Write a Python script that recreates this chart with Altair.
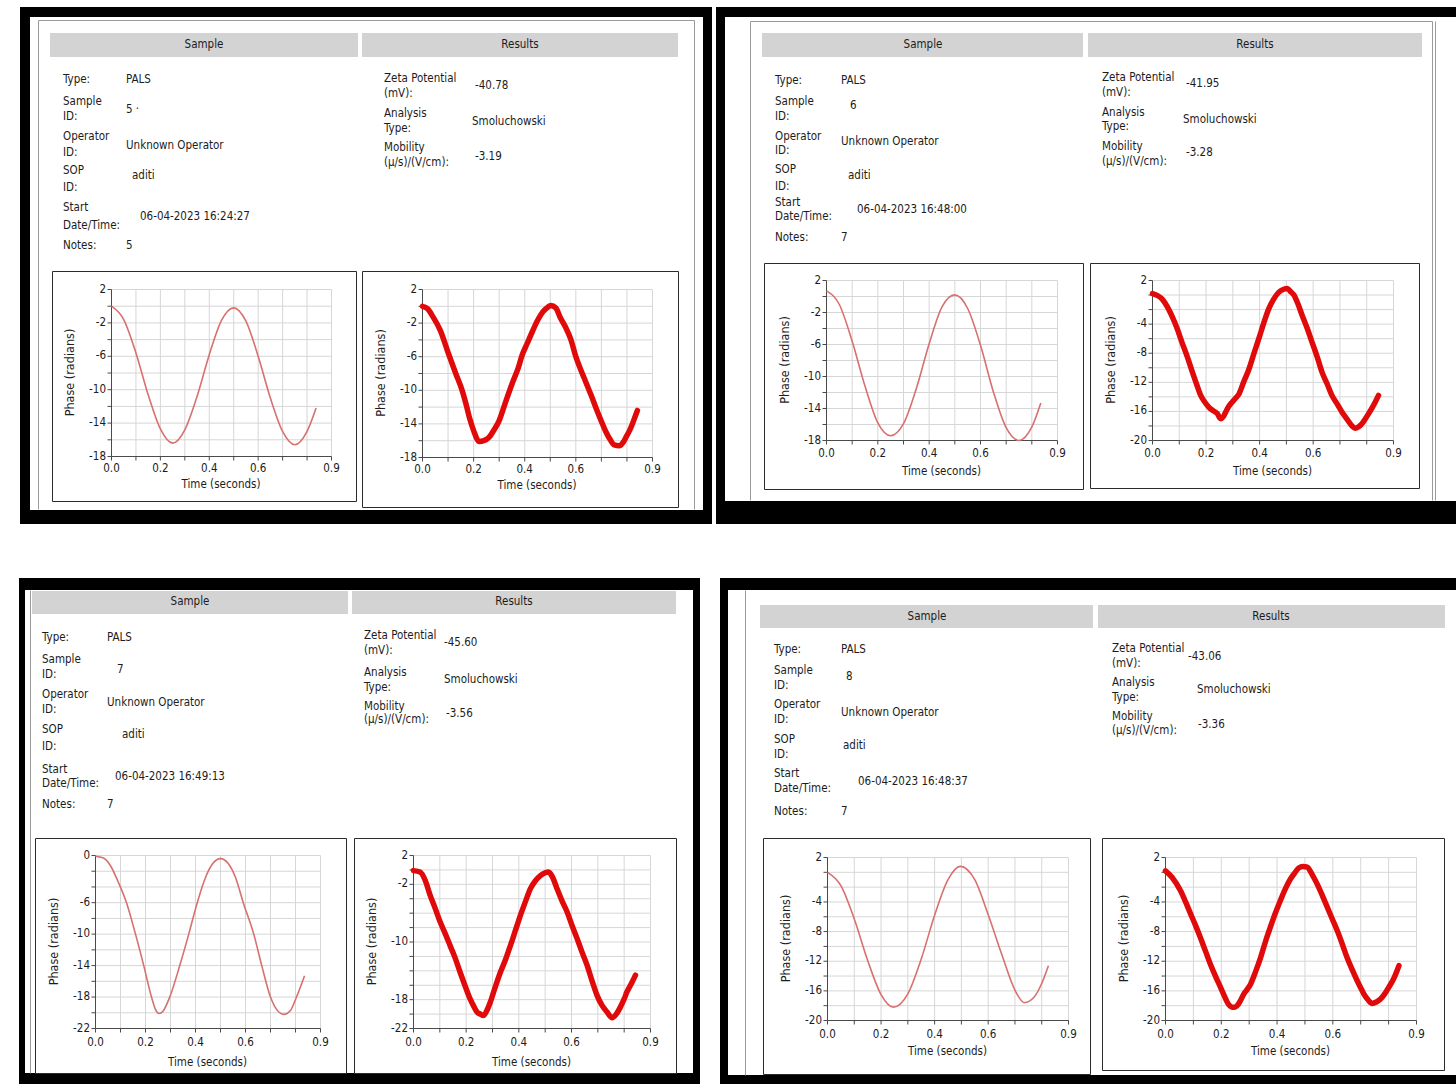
import altair as alt
import pandas as pd

W, H = 1456, 1084
FONT = "DejaVu Sans Condensed, Liberation Sans, Arial, sans-serif"
INK = "#1c1c1c"
AXIS = "#4a4a4a"
GRID = "#d6d6d6"
BAR = "#d3d3d3"
THIN_RED = "#d8706e"
THICK_RED = "#e00a0a"

# ---- report text ------------------------------------------------------------
HEADERS = ["Sample", "Results"]
SAMPLE_FIELDS = ["Type:", "Sample", "ID:", "Operator", "ID:", "SOP", "ID:",
                 "Start", "Date/Time:", "Notes:"]
RESULT_FIELDS = ["Zeta Potential", "(mV):", "Analysis", "Type:",
                 "Mobility", "(\u03bc/s)/(V/cm):"]

MEAS_TYPE = ["PALS", "PALS", "PALS", "PALS"]
SAMPLE_ID = ["5 \u00b7", "6", "7", "8"]
OPERATOR = ["Unknown Operator", "Unknown Operator", "Unknown Operator", "Unknown Operator"]
SOP_ID = ["aditi", "aditi", "aditi", "aditi"]
START = ["06-04-2023 16:24:27", "06-04-2023 16:48:00",
         "06-04-2023 16:49:13", "06-04-2023 16:48:37"]
NOTES = ["5", "7", "7", "7"]
ZETA = ["-40.78", "-41.95", "-45.60", "-43.06"]
ANALYSIS = ["Smoluchowski", "Smoluchowski", "Smoluchowski", "Smoluchowski"]
MOBILITY = ["-3.19", "-3.28", "-3.56", "-3.36"]

# ---- axes -------------------------------------------------------------------
X_TITLE = "Time (seconds)"
Y_TITLE = "Phase (radians)"
X_TICKS = [0.0, 0.1, 0.2, 0.3, 0.4, 0.5, 0.6, 0.7, 0.8, 0.9]
X_LABELS = [0.0, 0.2, 0.4, 0.6, 0.9]
Y_DOMAINS = [[-18, 2], [-18, 2], [-18, 2], [-20, 2],
             [-22, 0], [-22, 2], [-20, 2], [-20, 2]]
Y_LABELS = [[2, -2, -6, -10, -14, -18], [2, -2, -6, -10, -14, -18],
            [2, -2, -6, -10, -14, -18], [2, -4, -8, -12, -16, -20],
            [0, -6, -10, -14, -18, -22], [2, -2, -10, -18, -22],
            [2, -4, -8, -12, -16, -20], [2, -4, -8, -12, -16, -20]]

# ---- phase traces (time in s, phase in radians) -----------------------------
T_5_L = [0.00, 0.05, 0.10, 0.15, 0.20, 0.25, 0.30, 0.35, 0.40, 0.45,
         0.50, 0.55, 0.60, 0.65, 0.70, 0.75, 0.80, 0.837]
PH_5_L = [0.0, -1.6, -5.6, -10.6, -14.7, -16.4, -14.8, -10.8, -5.8, -1.7,
          -0.2, -1.8, -6.0, -11.0, -15.0, -16.6, -15.0, -12.2]

T_5_R = [0.000, 0.020, 0.040, 0.070, 0.100, 0.130, 0.155, 0.170, 0.185, 0.200,
         0.222, 0.240, 0.260, 0.280, 0.300, 0.325, 0.352, 0.375, 0.390, 0.410,
         0.430, 0.450, 0.470, 0.490, 0.502, 0.522, 0.540, 0.560, 0.580, 0.600,
         0.620, 0.640, 0.660, 0.680, 0.700, 0.717, 0.735, 0.750, 0.770, 0.785,
         0.796, 0.810, 0.820, 0.831, 0.841]
PH_5_R = [0.0, -0.3, -1.2, -2.9, -5.5, -8.0, -10.0, -11.6, -13.4, -14.8,
          -16.1, -16.0, -15.6, -14.7, -13.6, -11.4, -9.1, -7.3, -5.8, -4.4,
          -3.0, -1.7, -0.7, -0.1, 0.1, -0.2, -1.4, -2.5, -3.9, -6.0,
          -7.6, -9.1, -10.6, -12.2, -13.7, -14.9, -15.9, -16.5, -16.6, -16.2,
          -15.6, -14.8, -14.1, -13.2, -12.4]

T_6_L = [0.00, 0.05, 0.10, 0.15, 0.20, 0.25, 0.30, 0.35, 0.40, 0.45,
         0.50, 0.55, 0.60, 0.65, 0.70, 0.75, 0.80, 0.835]
PH_6_L = [0.7, -1.0, -5.6, -11.2, -15.8, -17.4, -15.9, -11.5, -5.9, -1.3,
          0.2, -1.5, -6.1, -11.9, -16.4, -18.0, -16.3, -13.3]

T_6_R = [0.000, 0.020, 0.037, 0.055, 0.074, 0.092, 0.110, 0.130, 0.149, 0.165,
         0.180, 0.195, 0.210, 0.226, 0.242, 0.254, 0.265, 0.273, 0.285, 0.298,
         0.310, 0.323, 0.340, 0.360, 0.380, 0.397, 0.415, 0.434, 0.452, 0.472,
         0.490, 0.503, 0.515, 0.528, 0.543, 0.559, 0.578, 0.596, 0.615, 0.633,
         0.652, 0.670, 0.690, 0.708, 0.727, 0.745, 0.757, 0.770, 0.782, 0.795,
         0.807, 0.820, 0.832, 0.844]
PH_6_R = [0.2, -0.1, -0.6, -1.6, -3.0, -4.6, -6.5, -8.5, -10.6, -12.3,
          -13.8, -14.7, -15.4, -15.9, -16.3, -17.0, -16.7, -16.1, -15.3, -14.7,
          -14.2, -13.6, -12.0, -10.2, -7.9, -6.0, -3.9, -1.9, -0.6, 0.4,
          0.8, 0.9, 0.5, 0.0, -1.2, -2.8, -4.6, -6.5, -8.5, -10.6,
          -12.2, -13.8, -15.0, -16.1, -17.1, -18.0, -18.3, -18.1, -17.7, -17.0,
          -16.3, -15.5, -14.7, -13.8]

T_7_L = [0.000, 0.030, 0.060, 0.090, 0.124, 0.160, 0.193, 0.224, 0.240, 0.255,
         0.270, 0.297, 0.337, 0.373, 0.407, 0.440, 0.470, 0.500, 0.530, 0.560,
         0.591, 0.633, 0.665, 0.700, 0.725, 0.753, 0.780, 0.804, 0.836]
PH_7_L = [-0.1, -0.3, -1.3, -3.3, -6.0, -10.0, -14.0, -18.0, -19.6, -20.1,
          -19.8, -18.0, -14.0, -10.0, -6.0, -2.8, -1.0, -0.4, -1.0, -2.8,
          -6.0, -10.0, -14.0, -18.0, -19.6, -20.2, -19.7, -18.0, -15.3]

T_7_R = [0.000, 0.025, 0.045, 0.063, 0.082, 0.101, 0.120, 0.139, 0.158, 0.177,
         0.196, 0.215, 0.230, 0.241, 0.254, 0.266, 0.280, 0.292, 0.310, 0.330,
         0.350, 0.368, 0.387, 0.406, 0.425, 0.444, 0.463, 0.482, 0.500, 0.513,
         0.528, 0.545, 0.564, 0.583, 0.602, 0.621, 0.640, 0.659, 0.678, 0.697,
         0.716, 0.735, 0.754, 0.770, 0.786, 0.800, 0.811, 0.827, 0.843]
PH_7_R = [-0.1, -0.3, -1.5, -3.5, -5.3, -7.2, -8.8, -10.5, -12.2, -14.2,
          -16.1, -17.9, -19.0, -19.7, -20.0, -20.2, -19.4, -18.3, -16.3, -14.2,
          -12.4, -10.5, -8.4, -6.3, -4.4, -2.6, -1.5, -0.8, -0.4, -0.3,
          -1.0, -2.6, -4.3, -5.8, -7.7, -9.5, -11.4, -13.2, -15.4, -17.4,
          -18.8, -19.7, -20.5, -20.0, -19.0, -17.9, -16.9, -15.8, -14.6]

T_8_L = [0.00, 0.05, 0.10, 0.15, 0.20, 0.246, 0.30, 0.35, 0.40, 0.45,
         0.496, 0.55, 0.60, 0.65, 0.70, 0.735, 0.77, 0.80, 0.825]
PH_8_L = [0.0, -1.8, -6.3, -11.9, -16.5, -18.2, -16.4, -11.7, -5.8, -1.0,
          0.8, -1.0, -5.7, -11.0, -15.9, -17.6, -16.9, -15.0, -12.6]

T_8_R = [0.000, 0.024, 0.054, 0.072, 0.090, 0.108, 0.125, 0.143, 0.161, 0.179,
         0.197, 0.210, 0.221, 0.230, 0.239, 0.248, 0.257, 0.269, 0.281, 0.293,
         0.305, 0.323, 0.341, 0.358, 0.376, 0.394, 0.412, 0.430, 0.448, 0.463,
         0.478, 0.493, 0.508, 0.526, 0.544, 0.562, 0.580, 0.598, 0.616, 0.634,
         0.651, 0.669, 0.687, 0.700, 0.711, 0.726, 0.741, 0.756, 0.771, 0.786,
         0.801, 0.820, 0.837]
PH_8_R = [0.2, -0.7, -2.5, -4.0, -5.6, -7.2, -8.8, -10.6, -12.4, -14.0,
          -15.5, -16.6, -17.5, -18.0, -18.2, -18.2, -18.0, -17.3, -16.4, -15.8,
          -15.1, -13.4, -11.5, -9.4, -7.4, -5.5, -3.8, -2.2, -0.9, -0.1,
          0.6, 0.8, 0.7, -0.3, -1.6, -3.1, -4.7, -6.3, -7.9, -9.7,
          -11.5, -13.1, -14.6, -15.6, -16.4, -17.2, -17.7, -17.5, -17.1, -16.4,
          -15.5, -14.2, -12.6]

TRACES = [(T_5_L, PH_5_L, False), (T_5_R, PH_5_R, True),
          (T_6_L, PH_6_L, False), (T_6_R, PH_6_R, True),
          (T_7_L, PH_7_L, False), (T_7_R, PH_7_R, True),
          (T_8_L, PH_8_L, False), (T_8_R, PH_8_R, True)]

# ---- page layout (pixels) ---------------------------------------------------
SHEETS = [
    dict(black=(20, 7, 712, 524), white=(30, 17, 703, 510),
         rules=[(38, 20, 38, 509), (38, 20, 694, 20), (694, 20, 694, 509)],
         bars=[(50, 33, 358, 57), (362, 33, 678, 57)], bar_text=[(204, 45), (520, 45)],
         lab_x=63, lab_y=[80, 102, 117, 137, 153, 171, 188, 208, 226, 246],
         val_x=[126, 126, 126, 132, 140, 126], val_y=[80, 110, 146, 176, 217, 246],
         res_x=384, res_y=[79, 94, 114, 129, 148, 163],
         rv_x=[475, 472, 475], rv_y=[86, 122, 157]),
    dict(black=(716, 7, 1456, 524), white=(725, 17, 1456, 501),
         rules=[(750, 21, 750, 500), (750, 21, 1432, 21), (1432, 21, 1432, 500),
                (1435, 21, 1435, 500)],
         bars=[(762, 33, 1083, 57), (1088, 33, 1422, 57)], bar_text=[(923, 45), (1255, 45)],
         lab_x=775, lab_y=[81, 102, 117, 137, 151, 170, 187, 203, 217, 238],
         val_x=[841, 850, 841, 848, 857, 841], val_y=[81, 106, 142, 176, 210, 238],
         res_x=1102, res_y=[78, 93, 113, 127, 147, 162],
         rv_x=[1186, 1183, 1186], rv_y=[84, 120, 153]),
    dict(black=(19, 578, 700, 1084), white=(25, 590, 693, 1073),
         rules=[(30, 590, 30, 1073)],
         bars=[(32, 591, 348, 614), (352, 591, 676, 614)], bar_text=[(190, 602), (514, 602)],
         lab_x=42, lab_y=[638, 660, 675, 695, 710, 730, 747, 770, 784, 805],
         val_x=[107, 117, 107, 122, 115, 107], val_y=[638, 670, 703, 735, 777, 805],
         res_x=364, res_y=[636, 651, 673, 688, 707, 720],
         rv_x=[444, 444, 446], rv_y=[643, 680, 714]),
    dict(black=(720, 578, 1456, 1084), white=(728, 590, 1456, 1075),
         rules=[(745, 590, 745, 1075)],
         bars=[(760, 605, 1093, 628), (1098, 605, 1445, 628)], bar_text=[(927, 617), (1271, 617)],
         lab_x=774, lab_y=[650, 671, 686, 705, 720, 740, 755, 774, 789, 812],
         val_x=[841, 846, 841, 843, 858, 841], val_y=[650, 677, 713, 746, 782, 812],
         res_x=1112, res_y=[649, 664, 683, 698, 717, 731],
         rv_x=[1188, 1197, 1198], rv_y=[657, 690, 725]),
]

BOXES = [(52, 271, 356, 501), (362, 271, 678, 507),
         (764, 263, 1083, 489), (1090, 263, 1419, 488),
         (35, 838, 346, 1073), (354, 838, 676, 1073),
         (763, 838, 1090, 1074), (1102, 838, 1444, 1070)]
AREAS = [((111, 331), (289, 456)), ((422, 652), (289, 457)),
         ((826, 1057), (280, 440)), ((1152, 1393), (280, 440)),
         ((95, 320), (855, 1028)), ((413, 650), (855, 1028)),
         ((827, 1068), (857, 1020)), ((1165, 1416), (857, 1020))]
# distance below the x axis of tick labels / title, per sheet
AXIS_GAPS = [(13, 29), (14, 32), (15, 35), (15, 32)]

TEXT_SIZE = 11.5
TICK_SIZE = 11.5
X_TITLE_SIZE = 11.5
Y_TITLE_SIZE = 12.5

ONE = pd.DataFrame({"k": [0]})


def rect(box, **style):
    x0, y0, x1, y1 = box
    return alt.Chart(ONE).mark_rect(**style).encode(
        x=alt.value(x0), x2=alt.value(x1), y=alt.value(y0), y2=alt.value(y1))


def rule(seg, color="#9a9a9a", width=1):
    x0, y0, x1, y1 = seg
    return alt.Chart(ONE).mark_rule(color=color, strokeWidth=width).encode(
        x=alt.value(x0 + 0.5), x2=alt.value(x1 + 0.5),
        y=alt.value(y0 + 0.5), y2=alt.value(y1 + 0.5))


def text_at(s, x, y, size=TEXT_SIZE, align="left", angle=0):
    return alt.Chart(ONE).mark_text(
        text=s, align=align, baseline="middle", font=FONT, fontSize=size,
        color=INK, angle=angle
    ).encode(x=alt.value(x), y=alt.value(y))


def sheet_layers(i, lay):
    out = [rect(lay["black"], color="black"), rect(lay["white"], color="white")]
    out += [rule(seg) for seg in lay["rules"]]
    out += [rect(b, color=BAR) for b in lay["bars"]]
    out += [text_at(h, x, y, align="center")
            for h, (x, y) in zip(HEADERS, lay["bar_text"])]
    out += [text_at(s, lay["lab_x"], y) for s, y in zip(SAMPLE_FIELDS, lay["lab_y"])]
    values = [MEAS_TYPE[i], SAMPLE_ID[i], OPERATOR[i], SOP_ID[i], START[i], NOTES[i]]
    out += [text_at(s, x, y) for s, x, y in zip(values, lay["val_x"], lay["val_y"])]
    out += [text_at(s, lay["res_x"], y) for s, y in zip(RESULT_FIELDS, lay["res_y"])]
    results = [ZETA[i], ANALYSIS[i], MOBILITY[i]]
    out += [text_at(s, x, y) for s, x, y in zip(results, lay["rv_x"], lay["rv_y"])]
    return out


def phase_panel(t, phase, thick, area, ydom, ylabels, gaps):
    (x0, x1), (ytop, ybot) = area
    label_gap, title_gap = gaps
    xs = alt.Scale(domain=[0, 0.9], range=[x0 + 0.5, x1 + 0.5], nice=False, zero=False)
    ys = alt.Scale(domain=ydom, range=[ybot + 0.5, ytop + 0.5], nice=False, zero=False)
    yvals = list(range(ydom[1], ydom[0] - 1, -2))

    def X(f):
        return alt.X(f, scale=xs, axis=None)

    def Y(f):
        return alt.Y(f, scale=ys, axis=None)

    # light grid
    vgrid = alt.Chart(pd.DataFrame({"t": X_TICKS[1:], "lo": ydom[0], "hi": ydom[1]})
                      ).mark_rule(color=GRID).encode(x=X("t:Q"), y=Y("lo:Q"), y2="hi:Q")
    hgrid = alt.Chart(pd.DataFrame({"p": yvals[:-1], "a": 0.0, "b": 0.9})
                      ).mark_rule(color=GRID).encode(y=Y("p:Q"), x=X("a:Q"), x2="b:Q")

    # axis lines, ticks and labels
    x_dom = alt.Chart(pd.DataFrame({"a": [0.0], "b": [0.9], "p": [ydom[0]]})
                      ).mark_rule(color=AXIS).encode(x=X("a:Q"), x2="b:Q", y=Y("p:Q"))
    y_dom = alt.Chart(pd.DataFrame({"t": [0.0], "lo": [ydom[0]], "hi": [ydom[1]]})
                      ).mark_rule(color=AXIS).encode(x=X("t:Q"), y=Y("lo:Q"), y2="hi:Q")
    x_ticks = alt.Chart(pd.DataFrame({"t": X_TICKS})).mark_rule(color=AXIS).encode(
        x=X("t:Q"), y=alt.value(ybot + 0.5), y2=alt.value(ybot + 4.5))
    y_ticks = alt.Chart(pd.DataFrame({"p": yvals})).mark_rule(color=AXIS).encode(
        y=Y("p:Q"), x=alt.value(x0 - 3.5), x2=alt.value(x0 + 0.5))
    x_lab = alt.Chart(pd.DataFrame({"t": X_LABELS, "s": [f"{v:.1f}" for v in X_LABELS]})
                      ).mark_text(font=FONT, fontSize=TICK_SIZE, color=INK, baseline="middle"
                                  ).encode(x=X("t:Q"), y=alt.value(ybot + label_gap), text="s:N")
    y_lab = alt.Chart(pd.DataFrame({"p": ylabels, "s": [str(v) for v in ylabels]})
                      ).mark_text(font=FONT, fontSize=TICK_SIZE, color=INK, align="right",
                                  baseline="middle"
                                  ).encode(y=Y("p:Q"), x=alt.value(x0 - 5), text="s:N")
    x_title = text_at(X_TITLE, (x0 + x1) / 2, ybot + title_gap, size=X_TITLE_SIZE,
                      align="center")
    y_title = text_at(Y_TITLE, x0 - 41, (ytop + ybot) / 2, size=Y_TITLE_SIZE,
                      align="center", angle=270)

    if thick:
        line_mark = dict(color=THICK_RED, strokeWidth=5.5, strokeCap="round",
                         strokeJoin="round", interpolate="monotone")
    else:
        line_mark = dict(color=THIN_RED, strokeWidth=1.6, interpolate="monotone")
    trace = alt.Chart(pd.DataFrame({"t": t, "phase": phase})).mark_line(**line_mark).encode(
        x=X("t:Q"), y=Y("phase:Q"))

    return alt.layer(vgrid, hgrid, x_dom, y_dom, x_ticks, y_ticks, x_lab, y_lab,
                     x_title, y_title, trace)


layers = []
for i, lay in enumerate(SHEETS):
    layers += sheet_layers(i, lay)
for box in BOXES:
    layers.append(rect((box[0] + 0.5, box[1] + 0.5, box[2] + 0.5, box[3] + 0.5),
                       fill="white", stroke="#2b2b2b", strokeWidth=1))
for k, (t, ph, thick) in enumerate(TRACES):
    layers.append(phase_panel(t, ph, thick, AREAS[k], Y_DOMAINS[k], Y_LABELS[k],
                              AXIS_GAPS[k // 2]))

chart = alt.layer(*layers).properties(
    width=W, height=H, padding=0,
    autosize=alt.AutoSizeParams(type="none"),
    background="white",
).resolve_scale(
    x="independent", y="independent"
).configure_view(
    stroke=None
)

chart.save("out.html", embed_options={"renderer": "svg", "actions": False})
